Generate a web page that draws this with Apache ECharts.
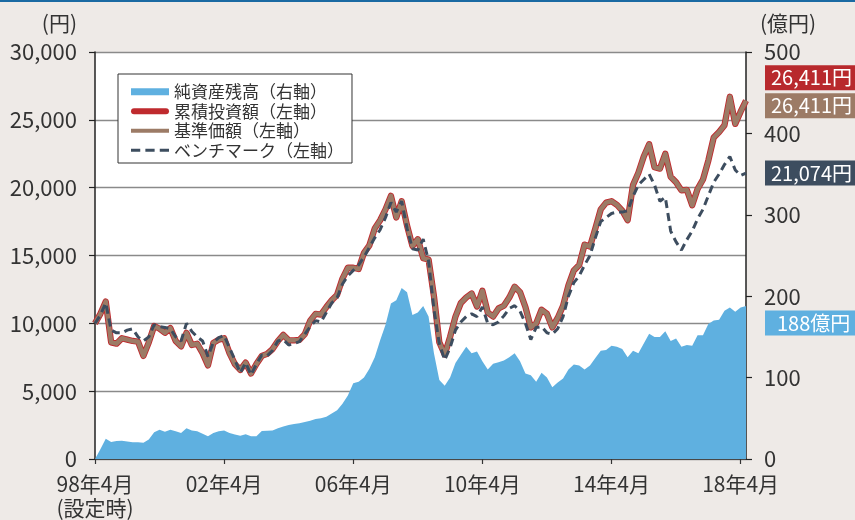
<!DOCTYPE html>
<html>
<head>
<meta charset="utf-8">
<style>
  html, body { margin: 0; padding: 0; background: #eeeae7; }
  #topline { position: absolute; left: 0; top: 0; width: 855px; height: 2px; background: #1a6aa3; z-index: 2; }
  #chart { width: 855px; height: 520px; }
</style>
<script src="https://cdn.jsdelivr.net/npm/echarts@6/dist/echarts.min.js"></script>
</head>
<body>
<div id="topline"></div>
<div id="chart"></div>
<script>
// 2か月ごとの値（98年4月設定時から）
const monthStep = 2;

// 基準価額（円）
const navValues = [
  10000, 10700, 11600, 8600, 8500, 8900, 8800, 8700, 8650, 7600,
  8600, 9800, 9600, 9300, 9650, 8700, 8300, 9300, 8400, 8500,
  7800, 6900, 8560, 8800, 8900, 7800, 7000, 6570, 7100, 6300,
  7000, 7600, 7750, 8100, 8700, 9150, 8750, 8750, 8780, 9200,
  10200, 10700, 10650, 11200, 11700, 12100, 13300, 14100, 14100, 14000,
  15200, 15750, 17000, 17600, 18400, 19400, 17800, 19000, 17200, 15700,
  16200, 14800, 14700, 12000, 8600, 7700, 9000, 10500, 11500, 11900,
  12200, 11240, 12400, 10800, 10500, 11100, 11300, 11900, 12700, 12300,
  11200, 9700, 10000, 11000, 10700, 9700, 10400, 11300, 12800, 13900,
  14300, 15800, 15660, 17000, 18400, 18900, 19000, 18740, 18300, 17600,
  20200, 21100, 22300, 23200, 21500, 21400, 22500, 20800, 20400, 19800,
  19840, 18700, 19900, 20600, 22000, 23700, 24100, 24600, 26700, 24700,
  25600, 26411
];

// 累積投資額（円）: 基準価額と同じ推移
const cumulativeValues = navValues.slice();

// ベンチマーク（円）
const benchmarkValues = [
  10000, 10600, 11500, 9500, 9300, 9300, 9500, 9600, 9000, 8700,
  9000, 9900, 9750, 9700, 9600, 9000, 8700, 10000, 9400, 9000,
  8700, 7550, 8600, 8950, 9100, 8200, 7300, 6340, 7100, 6200,
  7000, 7670, 7600, 8000, 8700, 8800, 8400, 8500, 8650, 9200,
  9750, 10200, 10100, 10800, 11500, 11880, 12900, 13500, 13900, 14300,
  14900, 15600, 16300, 16900, 17800, 18900, 18200, 19000, 17000, 15500,
  15400, 16200, 14600, 11000, 8500, 7300, 8200, 9500, 10100, 10500,
  10700, 10500, 11200, 10000, 9900, 10100, 10550, 11100, 11300, 10900,
  10000, 8800, 9700, 9760, 9300, 9200, 9600, 10500, 12000, 13000,
  13500, 14300, 15000, 16300, 17500, 17800, 18100, 18200, 18200, 18300,
  19350, 20200, 20600, 21000, 20200, 19000, 19300, 16800, 16000, 15400,
  16160, 16800, 17700, 18400, 19400, 20400, 21000, 21700, 22300, 21300,
  20900, 21074
];

// 純資産残高（億円）
const assetValues = [
  0, 12, 25, 21, 22, 22.5, 21.5, 20.5, 20.5, 20,
  24, 33, 36, 33.5, 36, 34, 32, 37.7, 35, 34,
  31, 28, 32, 34, 35, 32, 30, 28.6, 30.5, 28,
  28, 34.4, 34.8, 35, 37.7, 40, 41.8, 43, 43.9, 45.5,
  47, 49, 50, 52, 56, 60, 68, 78, 93, 95,
  100, 111, 125, 146, 165, 191, 195, 210, 205, 177,
  180, 188, 175, 130, 97, 90, 100, 118, 128, 138,
  130, 132, 120, 110, 117, 119, 121, 125, 130, 120,
  105, 103, 95, 106, 100, 88, 94, 99, 110, 116,
  115, 110, 115, 124, 133, 134, 139, 138, 135, 125,
  133, 130, 142, 154, 150, 150, 157, 145, 148, 138,
  140, 139, 152, 152, 166, 170, 171, 182, 186, 181,
  186, 188
];

const seriesNames = ["純資産残高（右軸）", "累積投資額（左軸）", "基準価額（左軸）", "ベンチマーク（左軸）"];
const xMax = 242;
const xTickInterval = 48;

const font = '"Noto Sans CJK JP", "Noto Sans", sans-serif';
const textColor = "#333";

const toPairs = (arr) => arr.map((v, i) => [i * monthStep, v]);
const last = (arr) => arr[arr.length - 1];
const fmt = (v) => v.toLocaleString("en-US");

// 経過月数 → "98年4月"
const monthLabel = (m) => {
  if (m % xTickInterval !== 0) return "";
  const total = 1998 * 12 + 3 + m;
  const y = Math.floor(total / 12) % 100;
  const mon = (total % 12) + 1;
  let s = String(y).padStart(2, "0") + "年" + mon + "月";
  if (m === 0) s += "\n(設定時)";
  return s;
};

const myChart = echarts.init(document.getElementById("chart"));

myChart.setOption({
  animation: false,
  backgroundColor: "#eeeae7",
  textStyle: { fontFamily: font },
  grid: {
    left: 95,
    right: 109,
    top: 52,
    bottom: 61,
    show: true,
    backgroundColor: "#ffffff",
    borderWidth: 0,
  },
  legend: {
    orient: "vertical",
    left: 118,
    top: 74,
    padding: [8, 8, 3, 13],
    backgroundColor: "#ffffff",
    borderColor: "#333",
    borderWidth: 1,
    borderRadius: 0,
    itemWidth: 38,
    itemHeight: 7,
    itemGap: 0,
    textStyle: { fontFamily: font, fontSize: 17, color: textColor, lineHeight: 19.5 },
    data: [
      { name: seriesNames[0], icon: "rect", itemStyle: { color: "#5fb0e0", borderWidth: 0 } },
      { name: seriesNames[1], icon: "path://M3,0H35A3,3,0,0,1,35,6H3A3,3,0,0,1,3,0Z", itemStyle: { color: "#bf2a2e", borderWidth: 0 } },
      { name: seriesNames[2], icon: "path://M0,0H38V4H0Z", itemStyle: { color: "#9c7b66", borderWidth: 0 } },
      { name: seriesNames[3], icon: "path://M0,0H9V3H0Z M14,0H23V3H14Z M28,0H37V3H28Z", itemStyle: { color: "#3d4d5f", borderWidth: 0 } },
    ],
  },
  xAxis: {
    type: "value",
    min: 0,
    max: xMax,
    interval: xTickInterval,
    axisLine: { show: true, lineStyle: { color: "#333", width: 1.5 } },
    axisTick: { show: true, length: 5, lineStyle: { color: "#333", width: 1.2 } },
    splitLine: { show: false },
    axisLabel: {
      formatter: monthLabel,
      fontFamily: font,
      fontSize: 21,
      lineHeight: 24,
      color: textColor,
      margin: 13,
      showMaxLabel: false,
    },
  },
  yAxis: [
    {
      type: "value",
      min: 0,
      max: 30000,
      interval: 5000,
      position: "left",
      name: "(円)",
      nameLocation: "end",
      nameGap: 18,
      nameTextStyle: { fontFamily: font, fontSize: 21, color: textColor, align: "right", padding: [0, 18, 0, 0] },
      axisLine: { show: true, lineStyle: { color: "#222", width: 1.5 } },
      axisTick: { show: true, length: 6, lineStyle: { color: "#222", width: 1.2 } },
      splitLine: { show: true, lineStyle: { color: "#8a8a8a", width: 1.3 } },
      axisLabel: {
        fontFamily: font,
        fontSize: 22,
        color: textColor,
        margin: 18,
        formatter: (v) => fmt(v),
      },
    },
    {
      type: "value",
      min: 0,
      max: 500,
      interval: 100,
      position: "right",
      name: "(億円)",
      nameLocation: "end",
      nameGap: 18,
      nameTextStyle: { fontFamily: font, fontSize: 21, color: textColor, align: "left", padding: [0, 0, 0, 14] },
      axisLine: { show: true, lineStyle: { color: "#222", width: 1.5 } },
      axisTick: { show: true, length: 6, lineStyle: { color: "#222", width: 1.2 } },
      splitLine: { show: false },
      axisLabel: { fontFamily: font, fontSize: 22, color: textColor, margin: 18 },
    },
  ],
  series: [
    {
      name: seriesNames[0],
      type: "line",
      yAxisIndex: 1,
      data: toPairs(assetValues),
      showSymbol: false,
      symbol: "none",
      lineStyle: { width: 0, color: "#5fb0e0" },
      itemStyle: { color: "#5fb0e0" },
      areaStyle: { color: "#5fb0e0", opacity: 1 },
      endLabel: {
        show: true,
        formatter: () => fmt(last(assetValues)) + "億円",
        fontFamily: font,
        fontSize: 20,
        lineHeight: 21,
        color: "#fff",
        backgroundColor: "#5fb0e0",
        padding: [2, 5, 2, 12],
        distance: 19,
        offset: [0, 17],
      },
      z: 1,
    },
    {
      name: seriesNames[1],
      type: "line",
      data: toPairs(cumulativeValues),
      showSymbol: false,
      symbol: "none",
      lineStyle: { width: 6.3, color: "#bf2a2e", join: "round" },
      itemStyle: { color: "#bf2a2e" },
      endLabel: {
        show: true,
        formatter: () => fmt(last(cumulativeValues)) + "円",
        fontFamily: font,
        fontSize: 20,
        lineHeight: 21,
        color: "#fff",
        backgroundColor: "#b8292d",
        padding: [2, 4, 2, 6],
        distance: 19,
        offset: [0, -23],
      },
      z: 2,
    },
    {
      name: seriesNames[2],
      type: "line",
      data: toPairs(navValues),
      showSymbol: false,
      symbol: "none",
      lineStyle: { width: 4.5, color: "#9c7b66", join: "round" },
      itemStyle: { color: "#9c7b66" },
      endLabel: {
        show: true,
        formatter: () => fmt(last(navValues)) + "円",
        fontFamily: font,
        fontSize: 20,
        lineHeight: 21,
        color: "#fff",
        backgroundColor: "#9c7b66",
        padding: [2, 4, 2, 6],
        distance: 19,
        offset: [0, 5],
      },
      z: 3,
    },
    {
      name: seriesNames[3],
      type: "line",
      data: toPairs(benchmarkValues),
      showSymbol: false,
      symbol: "none",
      lineStyle: { width: 3, color: "#3d4d5f", type: [8, 5] },
      itemStyle: { color: "#3d4d5f" },
      endLabel: {
        show: true,
        formatter: () => fmt(last(benchmarkValues)) + "円",
        fontFamily: font,
        fontSize: 20,
        lineHeight: 21,
        color: "#fff",
        backgroundColor: "#3d4d5f",
        padding: [2, 4, 2, 6],
        distance: 19,
        offset: [0, 0],
      },
      z: 4,
    },
  ],
});

window.addEventListener("resize", () => {
  myChart && myChart.resize();
});
</script>
</body>
</html>
